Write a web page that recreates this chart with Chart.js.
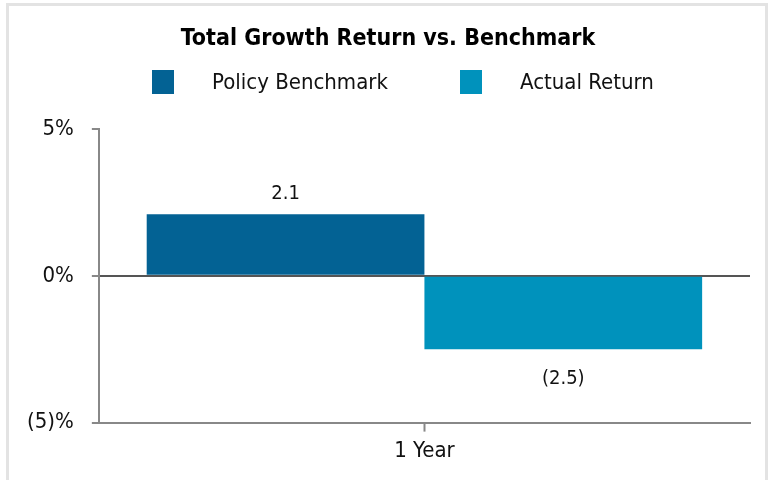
<!DOCTYPE html>
<html>
<head>
<meta charset="utf-8">
<script src="https://cdn.jsdelivr.net/npm/chart.js@4"></script>
<style>
  html, body { margin: 0; padding: 0; background: #fff; overflow: hidden; }
  #frame { position: absolute; left: 6px; top: 3px; width: 756px; height: 500px; border: 3px solid #e3e3e3; border-bottom: none; }
  #wrap { position: absolute; left: 0; top: 0; width: 768px; height: 480px; }
</style>
</head>
<body>
<div id="frame"></div>
<div id="wrap"><canvas id="chart" width="768" height="480"></canvas></div>
<script>
var title = "Total Growth Return vs. Benchmark";
var categories = ["1 Year"];
var seriesNames = ["Policy Benchmark", "Actual Return"];
var policyValues = [2.1];
var actualValues = [-2.5];
var yTicks = [-5, 0, 5];
var colors = ["#036294", "#0092bc"];

var FONT = "'DejaVu Sans Condensed', 'Liberation Sans', sans-serif";

function fmt(v) {
  if (v < 0) return "(" + Math.abs(v).toFixed(1) + ")";
  return v.toFixed(1);
}

var labelPlugin = {
  id: "labels",
  afterDatasetsDraw: function (chart) {
    var ctx = chart.ctx;
    ctx.save();
    ctx.font = "20px " + FONT;
    ctx.fillStyle = "#111";
    ctx.textAlign = "center";
    chart.data.datasets.forEach(function (ds, i) {
      chart.getDatasetMeta(i).data.forEach(function (bar, j) {
        var v = ds.data[j];
        if (v >= 0) {
          ctx.textBaseline = "bottom";
          ctx.fillText(fmt(v), bar.x, bar.y - 10);
        } else {
          ctx.textBaseline = "top";
          ctx.fillText(fmt(v), bar.x, bar.y + 20);
        }
      });
    });
    ctx.restore();
  }
};

// title and legend drawn by hand so they sit where the reference has them
var headerPlugin = {
  id: "header",
  afterDraw: function (chart) {
    var ctx = chart.ctx;
    var xs = [152, 460];
    ctx.save();
    ctx.fillStyle = "#000";
    ctx.font = "bold 23px " + FONT;
    ctx.textAlign = "center";
    ctx.textBaseline = "middle";
    ctx.fillText(title, 388, 39);
    ctx.font = "22px " + FONT;
    ctx.textAlign = "left";
    seriesNames.forEach(function (name, i) {
      ctx.fillStyle = colors[i];
      ctx.fillRect(xs[i], 70, 22, 24);
      ctx.fillStyle = "#111";
      ctx.fillText(name, xs[i] + 60, 83);
    });
    ctx.restore();
  }
};

new Chart(document.getElementById("chart"), {
  type: "bar",
  data: {
    labels: categories,
    datasets: [
      { label: seriesNames[0], data: policyValues, backgroundColor: colors[0] },
      { label: seriesNames[1], data: actualValues, backgroundColor: colors[1] }
    ]
  },
  options: {
    responsive: false,
    animation: false,
    layout: { padding: { left: 9, right: 18, top: 129, bottom: 10 } },
    datasets: { bar: { categoryPercentage: 0.853, barPercentage: 1 } },
    plugins: {
      legend: { display: false },
      tooltip: { enabled: false },
      title: { display: false }
    },
    scales: {
      x: {
        grid: {
          offset: false,
          color: "rgba(0,0,0,0)",
          tickColor: "#888",
          tickLength: 9,
          tickWidth: 2
        },
        border: { color: "#888", width: 2 },
        ticks: { color: "#111", font: { family: FONT, size: 22 }, padding: 6 }
      },
      y: {
        min: -5,
        max: 5,
        afterBuildTicks: function (axis) {
          axis.ticks = yTicks.map(function (v) { return { value: v }; });
        },
        grid: {
          color: function (c) { return c.tick && c.tick.value === 0 ? "#555" : "rgba(0,0,0,0)"; },
          lineWidth: 2,
          tickColor: "#888",
          tickLength: 7,
          tickWidth: 2
        },
        border: { color: "#888", width: 2 },
        ticks: {
          color: "#111",
          font: { family: FONT, size: 22 },
          padding: 18,
          callback: function (v) {
            if (v < 0) return "(" + Math.abs(v) + ")%";
            return v + "%";
          }
        }
      }
    }
  },
  plugins: [labelPlugin, headerPlugin]
});
</script>
</body>
</html>
